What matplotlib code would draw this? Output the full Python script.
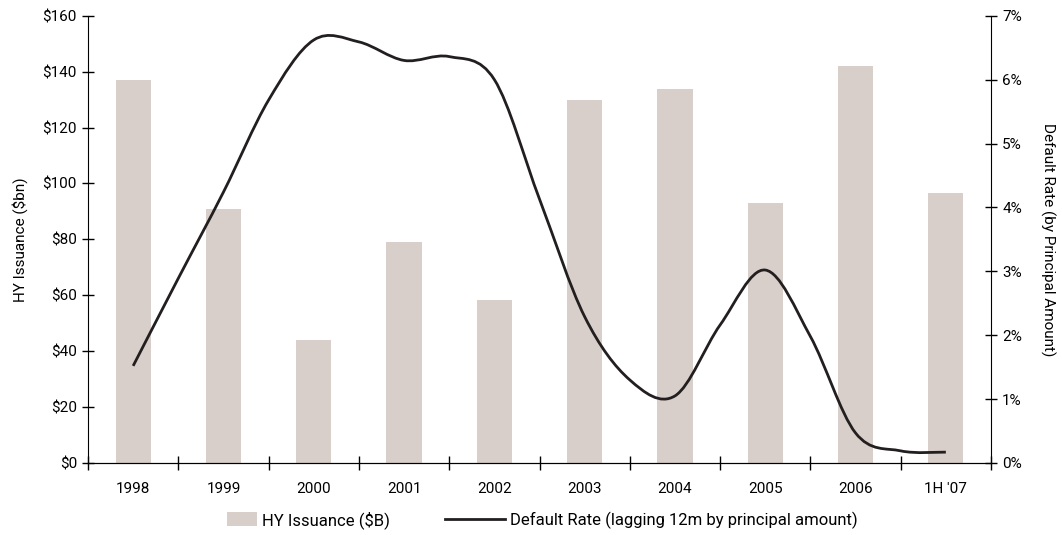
import matplotlib.pyplot as plt
from matplotlib.path import Path
from matplotlib.patches import PathPatch, Rectangle
from matplotlib.legend_handler import HandlerPatch
import numpy as np

plt.rcParams['font.family'] = ['Roboto', 'DejaVu Sans']

categories = ['1998', '1999', '2000', '2001', '2002', '2003', '2004', '2005', '2006', "1H '07"]
issuance = [137, 90.7, 44, 79.2, 58.3, 130, 133.9, 93, 141.9, 96.6]

# default rate, semi-annual readings (start, mid, ...) in %
default_pos = [0, 0.5, 1, 1.5, 2, 2.5, 3, 3.5, 4, 4.5, 5, 5.5, 6, 6.5, 7, 7.5, 8, 8.5, 9]
default_rate = [1.52, 2.89, 4.24, 5.68, 6.62, 6.59, 6.30, 6.36, 6.00, 4.13,
                2.29, 1.30, 1.05, 2.16, 3.02, 1.98, 0.47, 0.19, 0.17]

bar_color = '#d9cfca'
line_color = '#231f20'


def smooth_path(xs, ys, t=1.0 / 6):
    # Excel-style smoothed line: cubic bezier through the points
    pts = np.column_stack([xs, ys])
    verts = [pts[0]]
    codes = [Path.MOVETO]
    n = len(pts)
    for i in range(n - 1):
        p0 = pts[i - 1] if i > 0 else pts[i]
        p1 = pts[i]
        p2 = pts[i + 1]
        p3 = pts[i + 2] if i + 2 < n else pts[i + 1]
        c1 = p1 + (p2 - p0) * t
        c2 = p2 - (p3 - p1) * t
        verts += [c1, c2, p2]
        codes += [Path.CURVE4] * 3
    return Path(verts, codes)


def short_patch(legend, orig_handle, xdescent, ydescent, width, height, fontsize):
    # narrower square for the bar entry
    w = width * 0.5
    return Rectangle((xdescent + width - w, ydescent - 1), w, height + 2)


fig = plt.figure(figsize=(10.62, 5.35), dpi=100)
ax = fig.add_axes([88 / 1062, 1 - 463 / 535, 903 / 1062, (463 - 15.7) / 535])
x = np.arange(len(categories))
bars = ax.bar(x, issuance, width=0.39, color=bar_color, label='HY Issuance ($B)', zorder=1)
ax.set_xlim(-0.5, len(categories) - 0.5)
ax.set_ylim(0, 160)
ax.set_yticks(range(0, 161, 20))
ax.set_yticklabels(['${}'.format(v) for v in range(0, 161, 20)])
ax.set_xticks(np.arange(-0.5, len(categories), 1))
ax.set_xticklabels([])
ax.set_xticks(x, minor=True)
ax.set_xticklabels(categories, minor=True)
ax.tick_params(axis='x', which='major', direction='inout', length=10, width=1)
ax.tick_params(axis='x', which='minor', length=0, pad=14, labelsize=11)
ax.tick_params(axis='y', direction='inout', length=8, width=1, labelsize=11, pad=4)
ax.spines['top'].set_visible(False)
ax.spines['right'].set_visible(False)
ax.set_ylabel('HY Issuance ($bn)', fontsize=11, labelpad=10)

ax2 = ax.twinx()
ax2.set_ylim(0, 7)
ax2.set_yticks(range(0, 8))
ax2.set_yticklabels(['{}%'.format(v) for v in range(0, 8)])
ax2.tick_params(axis='y', direction='inout', length=8, width=1, labelsize=11, pad=4)
ax2.spines['top'].set_visible(False)
ax2.spines['left'].set_visible(False)
ax2.set_ylabel('Default Rate (by Principal Amount)', fontsize=11, rotation=270, labelpad=24)
patch = PathPatch(smooth_path(default_pos, default_rate), facecolor='none',
                  edgecolor=line_color, lw=2, zorder=3)
ax2.add_patch(patch)
line_handle, = ax2.plot([], [], color=line_color, lw=2)

fig.legend([bars.patches[0], line_handle],
           ['HY Issuance ($B)', 'Default Rate (lagging 12m by principal amount)'],
           loc='center', bbox_to_anchor=(527 / 1062, 0.028), ncol=2, frameon=False,
           fontsize=12, columnspacing=3.3, handlelength=3.6, handletextpad=0.3,
           handler_map={Rectangle: HandlerPatch(patch_func=short_patch)})

fig.savefig('out.png', dpi=100)
